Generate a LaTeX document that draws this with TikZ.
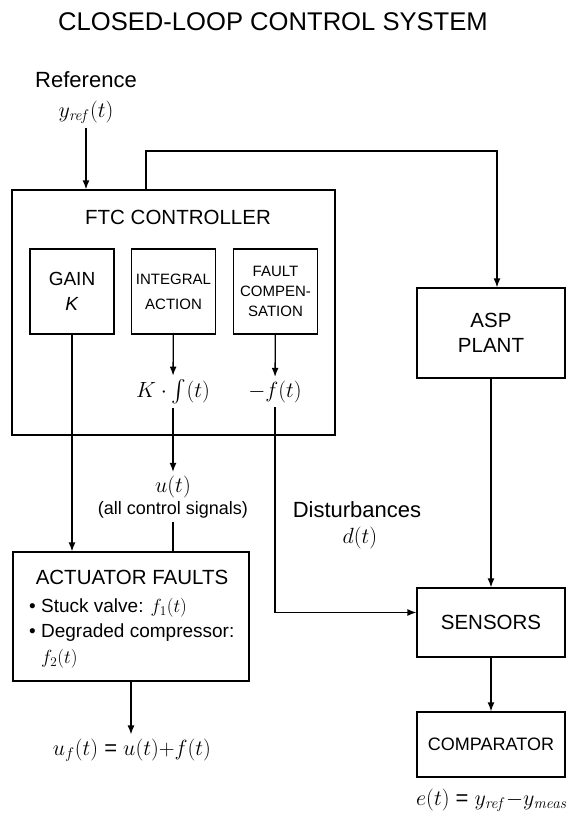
\RequirePackage{fix-cm}
\documentclass[tikz,border=0pt]{standalone}
\usepackage{amsmath, amssymb}
\usepackage[no-math]{fontspec}
\setmainfont{Liberation Sans}
\usepackage{xcolor}
\usetikzlibrary{arrows.meta, positioning, calc}

\newcommand{\titlesize}{\fontsize{25.6}{30}\selectfont}
\newcommand{\labelsize}{\fontsize{22}{26}\selectfont}
\newcommand{\boxsize}{\fontsize{20.5}{25}\selectfont}
\newcommand{\smallsize}{\fontsize{18}{22}\selectfont}

\begin{document}
\begin{tikzpicture}[
    x=1pt, y=-1pt,
    node distance=4pt,
    module/.style={rectangle, draw, line width=1.3pt, align=center, inner sep=0pt},
    inner/.style={module, minimum width=84pt, minimum height=85pt},
    side/.style={module, minimum width=148pt, font=\boxsize},
    lbl/.style={font=\labelsize, inner sep=4pt, align=center},
    sig/.style={-{Latex[length=9pt, width=7pt]}, line width=1.3pt},
]
\useasboundingbox (0,0) rectangle (571,817);

% Title
\node (title) at (273,22) {\titlesize CLOSED-LOOP CONTROL SYSTEM};

% Reference
\node (reflbl) [lbl] at (86,80) {Reference};
\node (yref) [lbl] at (86,112) {$y_{\mathit{ref}}(t)$};

% Controller
\node (ftc) [module, minimum width=323pt, minimum height=245pt] at (173.5,312.5) {};
\node (ftclbl) at (178,217) {\boxsize FTC CONTROLLER};
\node (gain) [inner, font=\fontsize{19}{25}\selectfont] at (72,291.5) {GAIN\\\textit{K}};
\node (integ) [inner, font=\fontsize{15}{25}\selectfont] at (173.5,291.5) {INTEGRAL\\ACTION};
\node (fault) [inner, font=\fontsize{15}{20}\selectfont] at (275.5,291.5) {FAULT\\COMPEN-\\SATION};
\node (kint) [lbl] at (173,392) {$K\cdot\int(t)$};
\node (mf) [lbl] at (275,392) {$-f(t)$};

% Control signals
\node (ut) [lbl] at (173,487) {$u(t)$};
\node (allsig) [font=\smallsize, inner sep=3pt] at (173,510) {(all control signals)};
\node (dist) [lbl] at (357,510) {Disturbances};
\node (dt) [lbl] at (360,538) {$d(t)$};

% Actuators
\node (act) [module, minimum width=236pt, minimum height=129pt] at (131,616.5) {};
\node (actlbl) at (132,577) {\boxsize ACTUATOR FAULTS};
\node (faults) [anchor=west, align=left, inner sep=0pt, font=\fontsize{19}{25.5}\selectfont] at (29,633)
    {• Stuck valve: $f_1(t)$\\• Degraded compressor:\\\hphantom{• }$f_2(t)$};
\node (uf) [lbl] at (132,750) {$u_f(t)$ = $u(t){+}f(t)$};

% Plant side
\node (plant) [side, minimum height=90pt] at (491,333) {ASP\\PLANT};
\node (sensors) [side, minimum height=69pt] at (491,622.5) {SENSORS};
\node (comp) [side, minimum height=65pt, font=\smallsize] at (491,744.5) {COMPARATOR};
\node (et) [lbl] at (492,800) {$e(t)$ = $y_{\mathit{ref}}{-}y_{\mathit{meas}}$};

\coordinate (fbturn) at (146,151);

% Arrows
\draw [sig] (yref) -- (yref |- ftc.north);
\draw [sig] (fbturn |- ftc.north) -- (fbturn) -| ([xshift=6pt]plant.north);
\draw [sig] (integ) -- (kint);
\draw [sig] (fault) -- (mf);
\draw [sig] (kint) -- (ut);
\draw [sig] (gain) -- (gain |- act.north);
\draw [line width=1.3pt] (allsig) -- (allsig |- act.north);
\draw [sig] (mf) |- ([yshift=10pt]sensors.west);
\draw [sig] (act) -- (act |- uf.north);
\draw [sig] (plant) -- (sensors);
\draw [sig] (sensors) -- (comp);

\end{tikzpicture}
\end{document}
